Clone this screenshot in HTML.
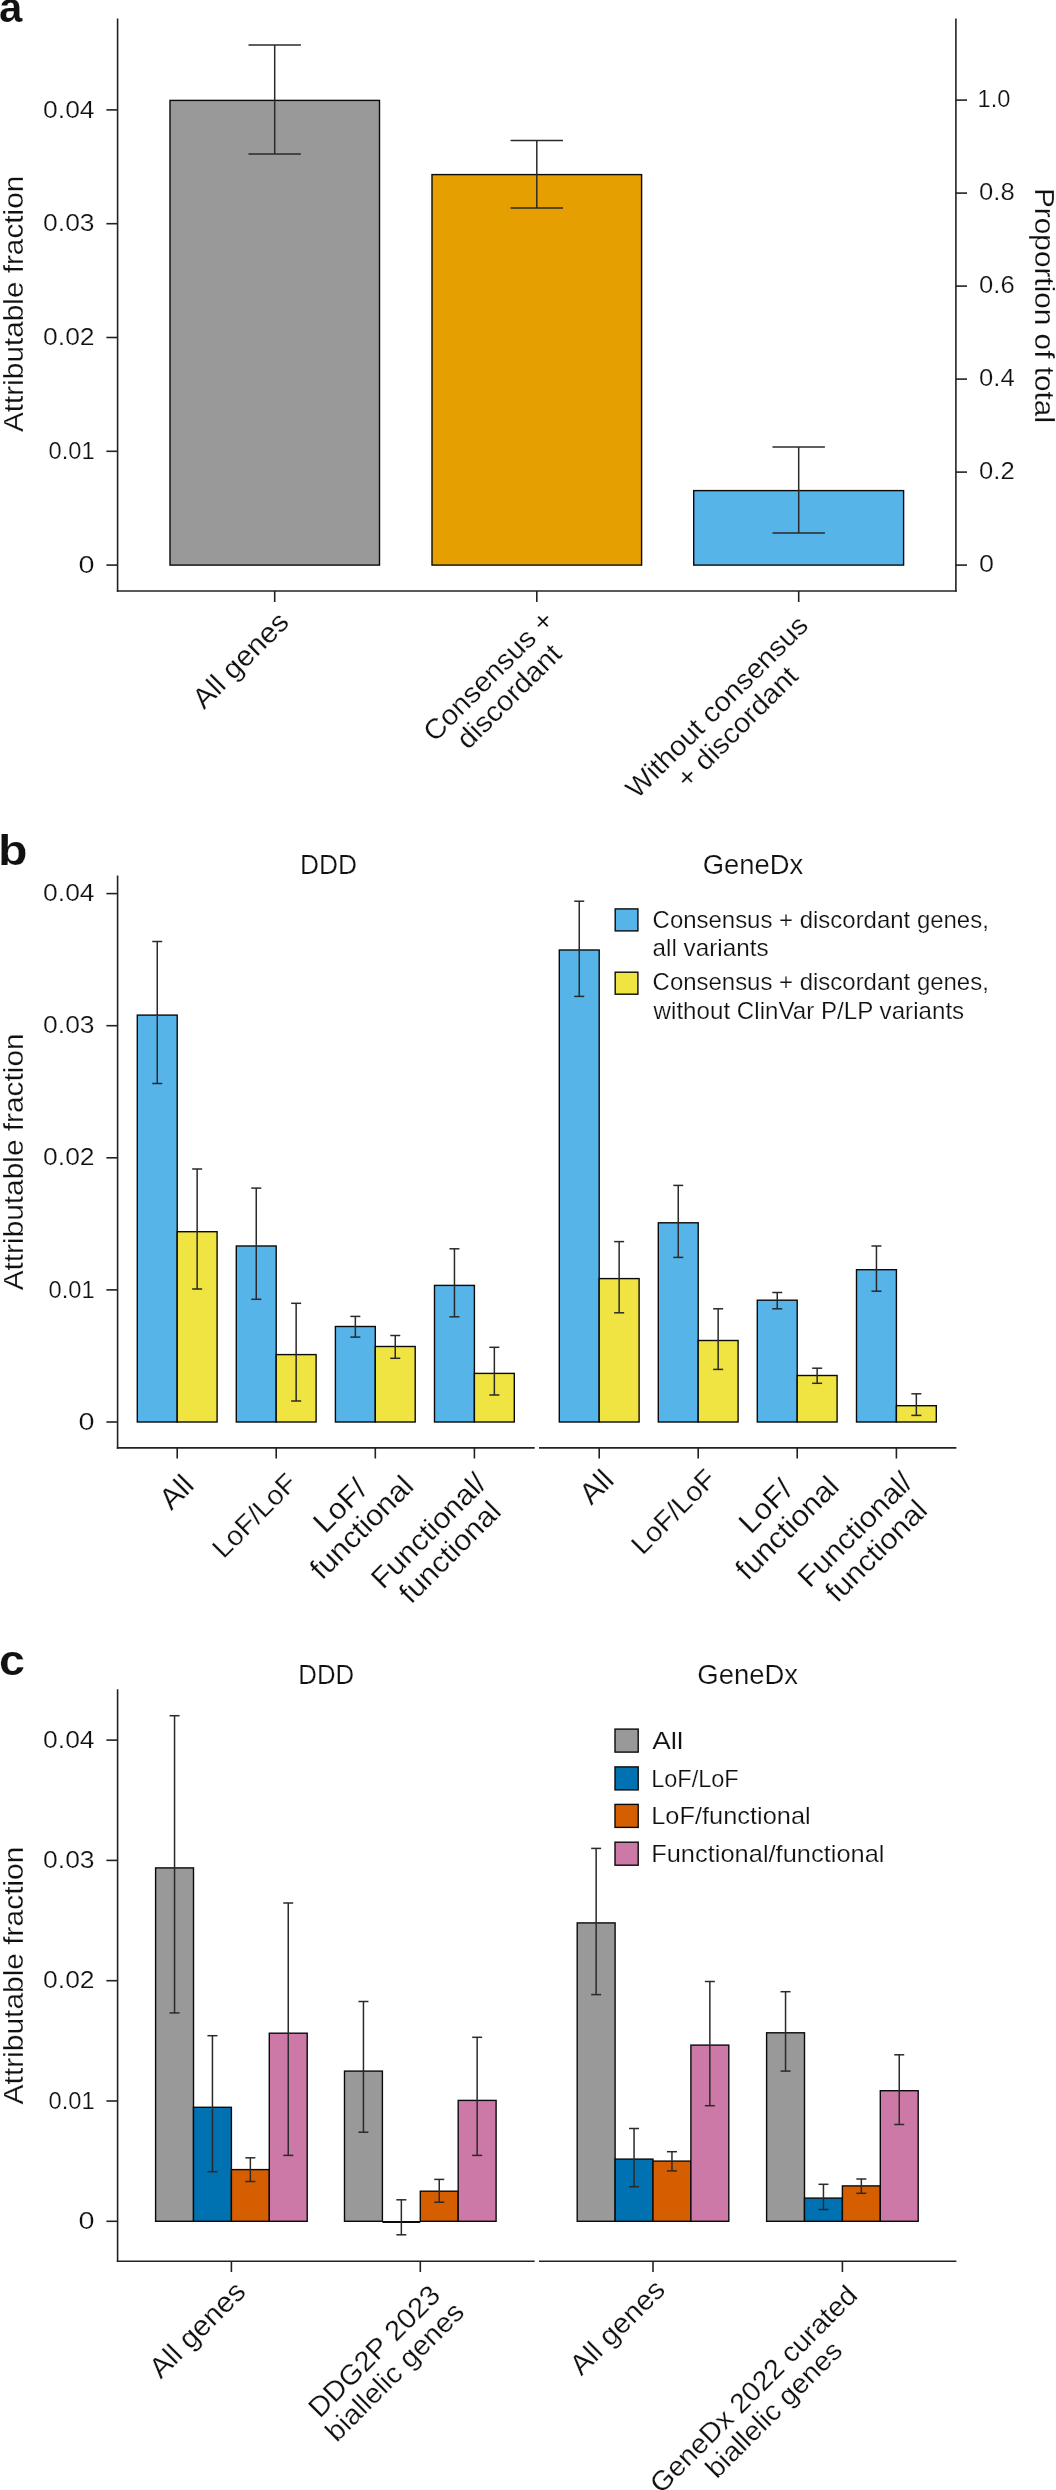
<!DOCTYPE html>
<html><head><meta charset="utf-8"><title>Attributable fraction figure</title>
<style>
html,body{margin:0;padding:0;background:#fff;}
body{width:1056px;height:2490px;overflow:hidden;}
svg{display:block;will-change:transform;}
text{font-family:"Liberation Sans", sans-serif;fill:#111;stroke:#fff;stroke-width:0.2px;}
</style></head><body>
<svg width="1056" height="2490" viewBox="0 0 1056 2490">
<rect width="1056" height="2490" fill="#fff"/>
<text x="-1" y="21.5" font-size="42" font-weight="bold">a</text>
<text x="-2.1" y="865" font-size="42" font-weight="bold" textLength="29.5" lengthAdjust="spacingAndGlyphs">b</text>
<text x="-1" y="1674.7" font-size="42" font-weight="bold" textLength="26.0" lengthAdjust="spacingAndGlyphs">c</text>
<line x1="117.60" y1="18.50" x2="117.60" y2="591.80" stroke="#222" stroke-width="1.6"/>
<line x1="116.80" y1="591.00" x2="956.70" y2="591.00" stroke="#222" stroke-width="1.6"/>
<line x1="955.90" y1="18.50" x2="955.90" y2="591.80" stroke="#222" stroke-width="1.6"/>
<line x1="106.40" y1="109.90" x2="117.60" y2="109.90" stroke="#222" stroke-width="1.6"/>
<text x="94.60" y="117.50" font-size="23.5" text-anchor="end" textLength="51.5" lengthAdjust="spacingAndGlyphs">0.04</text>
<line x1="106.40" y1="223.70" x2="117.60" y2="223.70" stroke="#222" stroke-width="1.6"/>
<text x="94.60" y="231.30" font-size="23.5" text-anchor="end" textLength="51.5" lengthAdjust="spacingAndGlyphs">0.03</text>
<line x1="106.40" y1="337.50" x2="117.60" y2="337.50" stroke="#222" stroke-width="1.6"/>
<text x="94.60" y="345.10" font-size="23.5" text-anchor="end" textLength="51.5" lengthAdjust="spacingAndGlyphs">0.02</text>
<line x1="106.40" y1="451.30" x2="117.60" y2="451.30" stroke="#222" stroke-width="1.6"/>
<text x="94.60" y="458.90" font-size="23.5" text-anchor="end" textLength="46.0" lengthAdjust="spacingAndGlyphs">0.01</text>
<line x1="106.40" y1="565.10" x2="117.60" y2="565.10" stroke="#222" stroke-width="1.6"/>
<text x="94.60" y="572.70" font-size="23.5" text-anchor="end" textLength="16.0" lengthAdjust="spacingAndGlyphs">0</text>
<line x1="955.90" y1="565.10" x2="967.00" y2="565.10" stroke="#222" stroke-width="1.6"/>
<text x="979.10" y="572.10" font-size="23.5" text-anchor="start" textLength="15.0" lengthAdjust="spacingAndGlyphs">0</text>
<line x1="955.90" y1="472.10" x2="967.00" y2="472.10" stroke="#222" stroke-width="1.6"/>
<text x="979.10" y="479.10" font-size="23.5" text-anchor="start" textLength="35.6" lengthAdjust="spacingAndGlyphs">0.2</text>
<line x1="955.90" y1="379.10" x2="967.00" y2="379.10" stroke="#222" stroke-width="1.6"/>
<text x="979.10" y="386.10" font-size="23.5" text-anchor="start" textLength="35.6" lengthAdjust="spacingAndGlyphs">0.4</text>
<line x1="955.90" y1="286.10" x2="967.00" y2="286.10" stroke="#222" stroke-width="1.6"/>
<text x="979.10" y="293.10" font-size="23.5" text-anchor="start" textLength="35.6" lengthAdjust="spacingAndGlyphs">0.6</text>
<line x1="955.90" y1="193.10" x2="967.00" y2="193.10" stroke="#222" stroke-width="1.6"/>
<text x="979.10" y="200.10" font-size="23.5" text-anchor="start" textLength="35.6" lengthAdjust="spacingAndGlyphs">0.8</text>
<line x1="955.90" y1="100.10" x2="967.00" y2="100.10" stroke="#222" stroke-width="1.6"/>
<text x="977.60" y="107.10" font-size="23.5" text-anchor="start" textLength="32.8" lengthAdjust="spacingAndGlyphs">1.0</text>
<rect x="170.00" y="100.40" width="209.50" height="464.70" fill="#999999" stroke="#0a0a0a" stroke-width="1.4"/>
<rect x="432.00" y="174.60" width="209.60" height="390.50" fill="#E69F00" stroke="#0a0a0a" stroke-width="1.4"/>
<rect x="693.70" y="490.60" width="209.90" height="74.50" fill="#56B4E9" stroke="#0a0a0a" stroke-width="1.4"/>
<line x1="274.70" y1="45.00" x2="274.70" y2="154.10" stroke="#2a2a2a" stroke-width="1.5"/>
<line x1="248.50" y1="45.00" x2="300.90" y2="45.00" stroke="#2a2a2a" stroke-width="1.5"/>
<line x1="248.50" y1="154.10" x2="300.90" y2="154.10" stroke="#2a2a2a" stroke-width="1.5"/>
<line x1="536.80" y1="140.50" x2="536.80" y2="208.00" stroke="#2a2a2a" stroke-width="1.5"/>
<line x1="510.60" y1="140.50" x2="563.00" y2="140.50" stroke="#2a2a2a" stroke-width="1.5"/>
<line x1="510.60" y1="208.00" x2="563.00" y2="208.00" stroke="#2a2a2a" stroke-width="1.5"/>
<line x1="798.70" y1="447.00" x2="798.70" y2="533.00" stroke="#2a2a2a" stroke-width="1.5"/>
<line x1="772.50" y1="447.00" x2="824.90" y2="447.00" stroke="#2a2a2a" stroke-width="1.5"/>
<line x1="772.50" y1="533.00" x2="824.90" y2="533.00" stroke="#2a2a2a" stroke-width="1.5"/>
<line x1="274.70" y1="591.00" x2="274.70" y2="602.00" stroke="#222" stroke-width="1.6"/>
<line x1="536.80" y1="591.00" x2="536.80" y2="602.00" stroke="#222" stroke-width="1.6"/>
<line x1="798.70" y1="591.00" x2="798.70" y2="602.00" stroke="#222" stroke-width="1.6"/>
<text transform="translate(23.10,303.90) rotate(-90)" x="0" y="0" font-size="27.5" text-anchor="middle" textLength="256.2" lengthAdjust="spacingAndGlyphs">Attributable fraction</text>
<text transform="translate(1034.80,305.50) rotate(90)" x="0" y="0" font-size="27.5" text-anchor="middle" textLength="235.0" lengthAdjust="spacingAndGlyphs">Proportion of total</text>
<g id="xl0" transform="translate(290.60,623.70) rotate(-45)"><text x="-61.16" y="0.00" font-size="28.59" text-anchor="middle" textLength="122.3" lengthAdjust="spacingAndGlyphs">All genes</text></g>
<g id="xl1" transform="translate(555.50,622.10) rotate(-45)"><text x="-85.44" y="0.00" font-size="28.02" text-anchor="middle" textLength="170.9" lengthAdjust="spacingAndGlyphs">Consensus +</text><text x="-85.44" y="29.03" font-size="28.02" text-anchor="middle" textLength="134.4" lengthAdjust="spacingAndGlyphs">discordant</text></g>
<g id="xl2" transform="translate(809.80,626.90) rotate(-45)"><text x="-122.26" y="0.00" font-size="27.83" text-anchor="middle" textLength="244.5" lengthAdjust="spacingAndGlyphs">Without consensus</text><text x="-122.26" y="28.84" font-size="27.83" text-anchor="middle" textLength="158.5" lengthAdjust="spacingAndGlyphs">+ discordant</text></g>
<line x1="117.60" y1="875.50" x2="117.60" y2="1448.70" stroke="#222" stroke-width="1.6"/>
<line x1="116.80" y1="1447.90" x2="534.70" y2="1447.90" stroke="#222" stroke-width="1.6"/>
<line x1="539.00" y1="1447.90" x2="956.40" y2="1447.90" stroke="#222" stroke-width="1.6"/>
<line x1="106.40" y1="893.60" x2="117.60" y2="893.60" stroke="#222" stroke-width="1.6"/>
<text x="94.60" y="901.20" font-size="23.5" text-anchor="end" textLength="51.5" lengthAdjust="spacingAndGlyphs">0.04</text>
<line x1="106.40" y1="1025.70" x2="117.60" y2="1025.70" stroke="#222" stroke-width="1.6"/>
<text x="94.60" y="1033.30" font-size="23.5" text-anchor="end" textLength="51.5" lengthAdjust="spacingAndGlyphs">0.03</text>
<line x1="106.40" y1="1157.80" x2="117.60" y2="1157.80" stroke="#222" stroke-width="1.6"/>
<text x="94.60" y="1165.40" font-size="23.5" text-anchor="end" textLength="51.5" lengthAdjust="spacingAndGlyphs">0.02</text>
<line x1="106.40" y1="1289.90" x2="117.60" y2="1289.90" stroke="#222" stroke-width="1.6"/>
<text x="94.60" y="1297.50" font-size="23.5" text-anchor="end" textLength="46.0" lengthAdjust="spacingAndGlyphs">0.01</text>
<line x1="106.40" y1="1422.00" x2="117.60" y2="1422.00" stroke="#222" stroke-width="1.6"/>
<text x="94.60" y="1429.60" font-size="23.5" text-anchor="end" textLength="16.0" lengthAdjust="spacingAndGlyphs">0</text>
<text x="328.60" y="873.80" font-size="27" text-anchor="middle" textLength="57.0" lengthAdjust="spacingAndGlyphs">DDD</text>
<text x="753.00" y="874.00" font-size="27" text-anchor="middle" textLength="100.5" lengthAdjust="spacingAndGlyphs">GeneDx</text>
<rect x="137.30" y="1015.10" width="39.90" height="406.90" fill="#56B4E9" stroke="#0a0a0a" stroke-width="1.4"/>
<rect x="177.20" y="1231.70" width="39.90" height="190.30" fill="#F0E442" stroke="#0a0a0a" stroke-width="1.4"/>
<rect x="236.30" y="1246.00" width="39.90" height="176.00" fill="#56B4E9" stroke="#0a0a0a" stroke-width="1.4"/>
<rect x="276.20" y="1354.60" width="39.90" height="67.40" fill="#F0E442" stroke="#0a0a0a" stroke-width="1.4"/>
<rect x="335.40" y="1326.50" width="39.90" height="95.50" fill="#56B4E9" stroke="#0a0a0a" stroke-width="1.4"/>
<rect x="375.30" y="1346.50" width="39.90" height="75.50" fill="#F0E442" stroke="#0a0a0a" stroke-width="1.4"/>
<rect x="434.50" y="1285.40" width="39.90" height="136.60" fill="#56B4E9" stroke="#0a0a0a" stroke-width="1.4"/>
<rect x="474.40" y="1373.40" width="39.90" height="48.60" fill="#F0E442" stroke="#0a0a0a" stroke-width="1.4"/>
<line x1="157.25" y1="941.50" x2="157.25" y2="1083.50" stroke="#2a2a2a" stroke-width="1.5"/>
<line x1="152.25" y1="941.50" x2="162.25" y2="941.50" stroke="#2a2a2a" stroke-width="1.5"/>
<line x1="152.25" y1="1083.50" x2="162.25" y2="1083.50" stroke="#2a2a2a" stroke-width="1.5"/>
<line x1="197.15" y1="1169.00" x2="197.15" y2="1289.00" stroke="#2a2a2a" stroke-width="1.5"/>
<line x1="192.15" y1="1169.00" x2="202.15" y2="1169.00" stroke="#2a2a2a" stroke-width="1.5"/>
<line x1="192.15" y1="1289.00" x2="202.15" y2="1289.00" stroke="#2a2a2a" stroke-width="1.5"/>
<line x1="256.25" y1="1188.10" x2="256.25" y2="1299.30" stroke="#2a2a2a" stroke-width="1.5"/>
<line x1="251.25" y1="1188.10" x2="261.25" y2="1188.10" stroke="#2a2a2a" stroke-width="1.5"/>
<line x1="251.25" y1="1299.30" x2="261.25" y2="1299.30" stroke="#2a2a2a" stroke-width="1.5"/>
<line x1="296.15" y1="1303.30" x2="296.15" y2="1401.00" stroke="#2a2a2a" stroke-width="1.5"/>
<line x1="291.15" y1="1303.30" x2="301.15" y2="1303.30" stroke="#2a2a2a" stroke-width="1.5"/>
<line x1="291.15" y1="1401.00" x2="301.15" y2="1401.00" stroke="#2a2a2a" stroke-width="1.5"/>
<line x1="355.35" y1="1316.40" x2="355.35" y2="1337.10" stroke="#2a2a2a" stroke-width="1.5"/>
<line x1="350.35" y1="1316.40" x2="360.35" y2="1316.40" stroke="#2a2a2a" stroke-width="1.5"/>
<line x1="350.35" y1="1337.10" x2="360.35" y2="1337.10" stroke="#2a2a2a" stroke-width="1.5"/>
<line x1="395.25" y1="1335.50" x2="395.25" y2="1358.30" stroke="#2a2a2a" stroke-width="1.5"/>
<line x1="390.25" y1="1335.50" x2="400.25" y2="1335.50" stroke="#2a2a2a" stroke-width="1.5"/>
<line x1="390.25" y1="1358.30" x2="400.25" y2="1358.30" stroke="#2a2a2a" stroke-width="1.5"/>
<line x1="454.45" y1="1248.80" x2="454.45" y2="1316.80" stroke="#2a2a2a" stroke-width="1.5"/>
<line x1="449.45" y1="1248.80" x2="459.45" y2="1248.80" stroke="#2a2a2a" stroke-width="1.5"/>
<line x1="449.45" y1="1316.80" x2="459.45" y2="1316.80" stroke="#2a2a2a" stroke-width="1.5"/>
<line x1="494.35" y1="1347.30" x2="494.35" y2="1395.00" stroke="#2a2a2a" stroke-width="1.5"/>
<line x1="489.35" y1="1347.30" x2="499.35" y2="1347.30" stroke="#2a2a2a" stroke-width="1.5"/>
<line x1="489.35" y1="1395.00" x2="499.35" y2="1395.00" stroke="#2a2a2a" stroke-width="1.5"/>
<line x1="177.20" y1="1447.90" x2="177.20" y2="1458.50" stroke="#222" stroke-width="1.6"/>
<line x1="276.20" y1="1447.90" x2="276.20" y2="1458.50" stroke="#222" stroke-width="1.6"/>
<line x1="375.30" y1="1447.90" x2="375.30" y2="1458.50" stroke="#222" stroke-width="1.6"/>
<line x1="474.40" y1="1447.90" x2="474.40" y2="1458.50" stroke="#222" stroke-width="1.6"/>
<rect x="559.30" y="950.00" width="39.90" height="472.00" fill="#56B4E9" stroke="#0a0a0a" stroke-width="1.4"/>
<rect x="599.20" y="1278.60" width="39.90" height="143.40" fill="#F0E442" stroke="#0a0a0a" stroke-width="1.4"/>
<rect x="658.30" y="1222.80" width="39.90" height="199.20" fill="#56B4E9" stroke="#0a0a0a" stroke-width="1.4"/>
<rect x="698.20" y="1340.50" width="39.90" height="81.50" fill="#F0E442" stroke="#0a0a0a" stroke-width="1.4"/>
<rect x="757.30" y="1300.20" width="39.90" height="121.80" fill="#56B4E9" stroke="#0a0a0a" stroke-width="1.4"/>
<rect x="797.20" y="1375.50" width="39.90" height="46.50" fill="#F0E442" stroke="#0a0a0a" stroke-width="1.4"/>
<rect x="856.50" y="1269.70" width="39.90" height="152.30" fill="#56B4E9" stroke="#0a0a0a" stroke-width="1.4"/>
<rect x="896.40" y="1405.70" width="39.90" height="16.30" fill="#F0E442" stroke="#0a0a0a" stroke-width="1.4"/>
<line x1="579.25" y1="901.20" x2="579.25" y2="996.40" stroke="#2a2a2a" stroke-width="1.5"/>
<line x1="574.25" y1="901.20" x2="584.25" y2="901.20" stroke="#2a2a2a" stroke-width="1.5"/>
<line x1="574.25" y1="996.40" x2="584.25" y2="996.40" stroke="#2a2a2a" stroke-width="1.5"/>
<line x1="619.15" y1="1241.60" x2="619.15" y2="1312.80" stroke="#2a2a2a" stroke-width="1.5"/>
<line x1="614.15" y1="1241.60" x2="624.15" y2="1241.60" stroke="#2a2a2a" stroke-width="1.5"/>
<line x1="614.15" y1="1312.80" x2="624.15" y2="1312.80" stroke="#2a2a2a" stroke-width="1.5"/>
<line x1="678.25" y1="1185.40" x2="678.25" y2="1257.40" stroke="#2a2a2a" stroke-width="1.5"/>
<line x1="673.25" y1="1185.40" x2="683.25" y2="1185.40" stroke="#2a2a2a" stroke-width="1.5"/>
<line x1="673.25" y1="1257.40" x2="683.25" y2="1257.40" stroke="#2a2a2a" stroke-width="1.5"/>
<line x1="718.15" y1="1308.80" x2="718.15" y2="1369.40" stroke="#2a2a2a" stroke-width="1.5"/>
<line x1="713.15" y1="1308.80" x2="723.15" y2="1308.80" stroke="#2a2a2a" stroke-width="1.5"/>
<line x1="713.15" y1="1369.40" x2="723.15" y2="1369.40" stroke="#2a2a2a" stroke-width="1.5"/>
<line x1="777.25" y1="1292.50" x2="777.25" y2="1308.80" stroke="#2a2a2a" stroke-width="1.5"/>
<line x1="772.25" y1="1292.50" x2="782.25" y2="1292.50" stroke="#2a2a2a" stroke-width="1.5"/>
<line x1="772.25" y1="1308.80" x2="782.25" y2="1308.80" stroke="#2a2a2a" stroke-width="1.5"/>
<line x1="817.15" y1="1368.20" x2="817.15" y2="1383.30" stroke="#2a2a2a" stroke-width="1.5"/>
<line x1="812.15" y1="1368.20" x2="822.15" y2="1368.20" stroke="#2a2a2a" stroke-width="1.5"/>
<line x1="812.15" y1="1383.30" x2="822.15" y2="1383.30" stroke="#2a2a2a" stroke-width="1.5"/>
<line x1="876.45" y1="1246.00" x2="876.45" y2="1291.20" stroke="#2a2a2a" stroke-width="1.5"/>
<line x1="871.45" y1="1246.00" x2="881.45" y2="1246.00" stroke="#2a2a2a" stroke-width="1.5"/>
<line x1="871.45" y1="1291.20" x2="881.45" y2="1291.20" stroke="#2a2a2a" stroke-width="1.5"/>
<line x1="916.35" y1="1393.80" x2="916.35" y2="1415.40" stroke="#2a2a2a" stroke-width="1.5"/>
<line x1="911.35" y1="1393.80" x2="921.35" y2="1393.80" stroke="#2a2a2a" stroke-width="1.5"/>
<line x1="911.35" y1="1415.40" x2="921.35" y2="1415.40" stroke="#2a2a2a" stroke-width="1.5"/>
<line x1="599.20" y1="1447.90" x2="599.20" y2="1458.50" stroke="#222" stroke-width="1.6"/>
<line x1="698.20" y1="1447.90" x2="698.20" y2="1458.50" stroke="#222" stroke-width="1.6"/>
<line x1="797.20" y1="1447.90" x2="797.20" y2="1458.50" stroke="#222" stroke-width="1.6"/>
<line x1="896.40" y1="1447.90" x2="896.40" y2="1458.50" stroke="#222" stroke-width="1.6"/>
<rect x="615.2" y="908.9" width="22.7" height="22.0" fill="#56B4E9" stroke="#0a0a0a" stroke-width="1.4"/>
<rect x="615.2" y="972.2" width="22.7" height="22.0" fill="#F0E442" stroke="#0a0a0a" stroke-width="1.4"/>
<text x="652.60" y="927.90" font-size="23.8" text-anchor="start" textLength="336.2" lengthAdjust="spacingAndGlyphs">Consensus + discordant genes,</text>
<text x="652.60" y="956.30" font-size="23.8" text-anchor="start" textLength="116" lengthAdjust="spacingAndGlyphs">all variants</text>
<text x="652.60" y="990.40" font-size="23.8" text-anchor="start" textLength="336.2" lengthAdjust="spacingAndGlyphs">Consensus + discordant genes,</text>
<text x="653.60" y="1018.80" font-size="23.8" text-anchor="start" textLength="310.6" lengthAdjust="spacingAndGlyphs">without ClinVar P/LP variants</text>
<text transform="translate(23.10,1161.90) rotate(-90)" x="0" y="0" font-size="27.5" text-anchor="middle" textLength="256.9" lengthAdjust="spacingAndGlyphs">Attributable fraction</text>
<g id="xl3" transform="translate(195.60,1487.00) rotate(-45)"><text x="-17.16" y="0.00" font-size="29.70" text-anchor="middle" textLength="34.3" lengthAdjust="spacingAndGlyphs">All</text></g>
<g id="xl4" transform="translate(298.50,1484.60) rotate(-45)"><text x="-53.03" y="0.00" font-size="27.38" text-anchor="middle" textLength="106.1" lengthAdjust="spacingAndGlyphs">LoF/LoF</text></g>
<g id="xl5" transform="translate(393.60,1466.20) rotate(-45)"><text x="-65.89" y="0.00" font-size="29.60" text-anchor="middle" textLength="61.6" lengthAdjust="spacingAndGlyphs">LoF/</text><text x="-65.89" y="30.68" font-size="29.60" text-anchor="middle" textLength="131.8" lengthAdjust="spacingAndGlyphs">functional</text></g>
<g id="xl6" transform="translate(487.90,1485.40) rotate(-45)"><text x="-74.13" y="0.00" font-size="29.15" text-anchor="middle" textLength="148.3" lengthAdjust="spacingAndGlyphs">Functional/</text><text x="-74.13" y="30.20" font-size="29.15" text-anchor="middle" textLength="129.8" lengthAdjust="spacingAndGlyphs">functional</text></g>
<g id="xl7" transform="translate(615.50,1481.80) rotate(-45)"><text x="-17.16" y="0.00" font-size="29.70" text-anchor="middle" textLength="34.3" lengthAdjust="spacingAndGlyphs">All</text></g>
<g id="xl8" transform="translate(717.70,1480.60) rotate(-45)"><text x="-53.26" y="0.00" font-size="27.50" text-anchor="middle" textLength="106.5" lengthAdjust="spacingAndGlyphs">LoF/LoF</text></g>
<g id="xl9" transform="translate(819.10,1466.60) rotate(-45)"><text x="-65.91" y="0.00" font-size="29.61" text-anchor="middle" textLength="61.6" lengthAdjust="spacingAndGlyphs">LoF/</text><text x="-65.91" y="30.69" font-size="29.61" text-anchor="middle" textLength="131.8" lengthAdjust="spacingAndGlyphs">functional</text></g>
<g id="xl10" transform="translate(914.30,1484.20) rotate(-45)"><text x="-74.13" y="0.00" font-size="29.14" text-anchor="middle" textLength="148.3" lengthAdjust="spacingAndGlyphs">Functional/</text><text x="-74.13" y="30.20" font-size="29.14" text-anchor="middle" textLength="129.8" lengthAdjust="spacingAndGlyphs">functional</text></g>
<line x1="117.60" y1="1689.20" x2="117.60" y2="2262.00" stroke="#222" stroke-width="1.6"/>
<line x1="116.80" y1="2261.20" x2="534.70" y2="2261.20" stroke="#222" stroke-width="1.6"/>
<line x1="539.00" y1="2261.20" x2="956.40" y2="2261.20" stroke="#222" stroke-width="1.6"/>
<line x1="106.40" y1="1740.10" x2="117.60" y2="1740.10" stroke="#222" stroke-width="1.6"/>
<text x="94.60" y="1747.70" font-size="23.5" text-anchor="end" textLength="51.5" lengthAdjust="spacingAndGlyphs">0.04</text>
<line x1="106.40" y1="1860.40" x2="117.60" y2="1860.40" stroke="#222" stroke-width="1.6"/>
<text x="94.60" y="1868.00" font-size="23.5" text-anchor="end" textLength="51.5" lengthAdjust="spacingAndGlyphs">0.03</text>
<line x1="106.40" y1="1980.70" x2="117.60" y2="1980.70" stroke="#222" stroke-width="1.6"/>
<text x="94.60" y="1988.30" font-size="23.5" text-anchor="end" textLength="51.5" lengthAdjust="spacingAndGlyphs">0.02</text>
<line x1="106.40" y1="2101.00" x2="117.60" y2="2101.00" stroke="#222" stroke-width="1.6"/>
<text x="94.60" y="2108.60" font-size="23.5" text-anchor="end" textLength="46.0" lengthAdjust="spacingAndGlyphs">0.01</text>
<line x1="106.40" y1="2221.30" x2="117.60" y2="2221.30" stroke="#222" stroke-width="1.6"/>
<text x="94.60" y="2228.90" font-size="23.5" text-anchor="end" textLength="16.0" lengthAdjust="spacingAndGlyphs">0</text>
<text x="326.20" y="1683.80" font-size="27" text-anchor="middle" textLength="55.8" lengthAdjust="spacingAndGlyphs">DDD</text>
<text x="747.70" y="1684.00" font-size="27" text-anchor="middle" textLength="100.8" lengthAdjust="spacingAndGlyphs">GeneDx</text>
<rect x="155.60" y="1867.90" width="37.90" height="353.40" fill="#999999" stroke="#0a0a0a" stroke-width="1.4"/>
<rect x="193.50" y="2107.30" width="37.90" height="114.00" fill="#0072B2" stroke="#0a0a0a" stroke-width="1.4"/>
<rect x="231.40" y="2169.60" width="37.90" height="51.70" fill="#D55E00" stroke="#0a0a0a" stroke-width="1.4"/>
<rect x="269.30" y="2033.20" width="37.90" height="188.10" fill="#CC79A7" stroke="#0a0a0a" stroke-width="1.4"/>
<line x1="174.55" y1="1715.70" x2="174.55" y2="2012.90" stroke="#2a2a2a" stroke-width="1.5"/>
<line x1="169.55" y1="1715.70" x2="179.55" y2="1715.70" stroke="#2a2a2a" stroke-width="1.5"/>
<line x1="169.55" y1="2012.90" x2="179.55" y2="2012.90" stroke="#2a2a2a" stroke-width="1.5"/>
<line x1="212.45" y1="2035.70" x2="212.45" y2="2171.70" stroke="#2a2a2a" stroke-width="1.5"/>
<line x1="207.45" y1="2035.70" x2="217.45" y2="2035.70" stroke="#2a2a2a" stroke-width="1.5"/>
<line x1="207.45" y1="2171.70" x2="217.45" y2="2171.70" stroke="#2a2a2a" stroke-width="1.5"/>
<line x1="250.35" y1="2157.80" x2="250.35" y2="2181.50" stroke="#2a2a2a" stroke-width="1.5"/>
<line x1="245.35" y1="2157.80" x2="255.35" y2="2157.80" stroke="#2a2a2a" stroke-width="1.5"/>
<line x1="245.35" y1="2181.50" x2="255.35" y2="2181.50" stroke="#2a2a2a" stroke-width="1.5"/>
<line x1="288.25" y1="1903.00" x2="288.25" y2="2155.40" stroke="#2a2a2a" stroke-width="1.5"/>
<line x1="283.25" y1="1903.00" x2="293.25" y2="1903.00" stroke="#2a2a2a" stroke-width="1.5"/>
<line x1="283.25" y1="2155.40" x2="293.25" y2="2155.40" stroke="#2a2a2a" stroke-width="1.5"/>
<line x1="231.40" y1="2261.20" x2="231.40" y2="2272.00" stroke="#222" stroke-width="1.6"/>
<rect x="344.50" y="2071.10" width="37.90" height="150.20" fill="#999999" stroke="#0a0a0a" stroke-width="1.4"/>
<line x1="382.40" y1="2221.90" x2="420.30" y2="2221.90" stroke="#0a0a0a" stroke-width="2"/>
<rect x="420.30" y="2191.20" width="37.90" height="30.10" fill="#D55E00" stroke="#0a0a0a" stroke-width="1.4"/>
<rect x="458.20" y="2100.40" width="37.90" height="120.90" fill="#CC79A7" stroke="#0a0a0a" stroke-width="1.4"/>
<line x1="363.45" y1="2001.50" x2="363.45" y2="2132.20" stroke="#2a2a2a" stroke-width="1.5"/>
<line x1="358.45" y1="2001.50" x2="368.45" y2="2001.50" stroke="#2a2a2a" stroke-width="1.5"/>
<line x1="358.45" y1="2132.20" x2="368.45" y2="2132.20" stroke="#2a2a2a" stroke-width="1.5"/>
<line x1="401.35" y1="2199.80" x2="401.35" y2="2234.80" stroke="#2a2a2a" stroke-width="1.5"/>
<line x1="396.35" y1="2199.80" x2="406.35" y2="2199.80" stroke="#2a2a2a" stroke-width="1.5"/>
<line x1="396.35" y1="2234.80" x2="406.35" y2="2234.80" stroke="#2a2a2a" stroke-width="1.5"/>
<line x1="439.25" y1="2179.40" x2="439.25" y2="2202.20" stroke="#2a2a2a" stroke-width="1.5"/>
<line x1="434.25" y1="2179.40" x2="444.25" y2="2179.40" stroke="#2a2a2a" stroke-width="1.5"/>
<line x1="434.25" y1="2202.20" x2="444.25" y2="2202.20" stroke="#2a2a2a" stroke-width="1.5"/>
<line x1="477.15" y1="2037.30" x2="477.15" y2="2155.40" stroke="#2a2a2a" stroke-width="1.5"/>
<line x1="472.15" y1="2037.30" x2="482.15" y2="2037.30" stroke="#2a2a2a" stroke-width="1.5"/>
<line x1="472.15" y1="2155.40" x2="482.15" y2="2155.40" stroke="#2a2a2a" stroke-width="1.5"/>
<line x1="420.30" y1="2261.20" x2="420.30" y2="2272.00" stroke="#222" stroke-width="1.6"/>
<rect x="577.20" y="1922.90" width="37.90" height="298.40" fill="#999999" stroke="#0a0a0a" stroke-width="1.4"/>
<rect x="615.10" y="2159.10" width="37.90" height="62.20" fill="#0072B2" stroke="#0a0a0a" stroke-width="1.4"/>
<rect x="653.00" y="2161.10" width="37.90" height="60.20" fill="#D55E00" stroke="#0a0a0a" stroke-width="1.4"/>
<rect x="690.90" y="2045.10" width="37.90" height="176.20" fill="#CC79A7" stroke="#0a0a0a" stroke-width="1.4"/>
<line x1="596.15" y1="1848.40" x2="596.15" y2="1994.60" stroke="#2a2a2a" stroke-width="1.5"/>
<line x1="591.15" y1="1848.40" x2="601.15" y2="1848.40" stroke="#2a2a2a" stroke-width="1.5"/>
<line x1="591.15" y1="1994.60" x2="601.15" y2="1994.60" stroke="#2a2a2a" stroke-width="1.5"/>
<line x1="634.05" y1="2128.50" x2="634.05" y2="2186.70" stroke="#2a2a2a" stroke-width="1.5"/>
<line x1="629.05" y1="2128.50" x2="639.05" y2="2128.50" stroke="#2a2a2a" stroke-width="1.5"/>
<line x1="629.05" y1="2186.70" x2="639.05" y2="2186.70" stroke="#2a2a2a" stroke-width="1.5"/>
<line x1="671.95" y1="2151.70" x2="671.95" y2="2170.90" stroke="#2a2a2a" stroke-width="1.5"/>
<line x1="666.95" y1="2151.70" x2="676.95" y2="2151.70" stroke="#2a2a2a" stroke-width="1.5"/>
<line x1="666.95" y1="2170.90" x2="676.95" y2="2170.90" stroke="#2a2a2a" stroke-width="1.5"/>
<line x1="709.85" y1="1981.50" x2="709.85" y2="2105.70" stroke="#2a2a2a" stroke-width="1.5"/>
<line x1="704.85" y1="1981.50" x2="714.85" y2="1981.50" stroke="#2a2a2a" stroke-width="1.5"/>
<line x1="704.85" y1="2105.70" x2="714.85" y2="2105.70" stroke="#2a2a2a" stroke-width="1.5"/>
<line x1="653.00" y1="2261.20" x2="653.00" y2="2272.00" stroke="#222" stroke-width="1.6"/>
<rect x="766.60" y="2032.80" width="37.90" height="188.50" fill="#999999" stroke="#0a0a0a" stroke-width="1.4"/>
<rect x="804.50" y="2198.10" width="37.90" height="23.20" fill="#0072B2" stroke="#0a0a0a" stroke-width="1.4"/>
<rect x="842.40" y="2185.90" width="37.90" height="35.40" fill="#D55E00" stroke="#0a0a0a" stroke-width="1.4"/>
<rect x="880.30" y="2090.70" width="37.90" height="130.60" fill="#CC79A7" stroke="#0a0a0a" stroke-width="1.4"/>
<line x1="785.55" y1="1991.70" x2="785.55" y2="2071.10" stroke="#2a2a2a" stroke-width="1.5"/>
<line x1="780.55" y1="1991.70" x2="790.55" y2="1991.70" stroke="#2a2a2a" stroke-width="1.5"/>
<line x1="780.55" y1="2071.10" x2="790.55" y2="2071.10" stroke="#2a2a2a" stroke-width="1.5"/>
<line x1="823.45" y1="2184.30" x2="823.45" y2="2209.50" stroke="#2a2a2a" stroke-width="1.5"/>
<line x1="818.45" y1="2184.30" x2="828.45" y2="2184.30" stroke="#2a2a2a" stroke-width="1.5"/>
<line x1="818.45" y1="2209.50" x2="828.45" y2="2209.50" stroke="#2a2a2a" stroke-width="1.5"/>
<line x1="861.35" y1="2179.00" x2="861.35" y2="2193.30" stroke="#2a2a2a" stroke-width="1.5"/>
<line x1="856.35" y1="2179.00" x2="866.35" y2="2179.00" stroke="#2a2a2a" stroke-width="1.5"/>
<line x1="856.35" y1="2193.30" x2="866.35" y2="2193.30" stroke="#2a2a2a" stroke-width="1.5"/>
<line x1="899.25" y1="2054.80" x2="899.25" y2="2124.50" stroke="#2a2a2a" stroke-width="1.5"/>
<line x1="894.25" y1="2054.80" x2="904.25" y2="2054.80" stroke="#2a2a2a" stroke-width="1.5"/>
<line x1="894.25" y1="2124.50" x2="904.25" y2="2124.50" stroke="#2a2a2a" stroke-width="1.5"/>
<line x1="842.40" y1="2261.20" x2="842.40" y2="2272.00" stroke="#222" stroke-width="1.6"/>
<rect x="615.0" y="1729.10" width="23.2" height="23.0" fill="#999999" stroke="#0a0a0a" stroke-width="1.4"/>
<text x="652.20" y="1749.00" font-size="23.8" text-anchor="start" textLength="31.0" lengthAdjust="spacingAndGlyphs">All</text>
<rect x="615.0" y="1766.90" width="23.2" height="23.0" fill="#0072B2" stroke="#0a0a0a" stroke-width="1.4"/>
<text x="651.20" y="1786.80" font-size="23.8" text-anchor="start" textLength="87.5" lengthAdjust="spacingAndGlyphs">LoF/LoF</text>
<rect x="615.0" y="1804.40" width="23.2" height="23.0" fill="#D55E00" stroke="#0a0a0a" stroke-width="1.4"/>
<text x="651.20" y="1824.30" font-size="23.8" text-anchor="start" textLength="159.5" lengthAdjust="spacingAndGlyphs">LoF/functional</text>
<rect x="615.0" y="1842.20" width="23.2" height="23.0" fill="#CC79A7" stroke="#0a0a0a" stroke-width="1.4"/>
<text x="651.20" y="1862.10" font-size="23.8" text-anchor="start" textLength="233.3" lengthAdjust="spacingAndGlyphs">Functional/functional</text>
<text transform="translate(23.10,1975.50) rotate(-90)" x="0" y="0" font-size="27.5" text-anchor="middle" textLength="257.8" lengthAdjust="spacingAndGlyphs">Attributable fraction</text>
<g id="xl11" transform="translate(247.20,2293.30) rotate(-45)"><text x="-61.16" y="0.00" font-size="28.59" text-anchor="middle" textLength="122.3" lengthAdjust="spacingAndGlyphs">All genes</text></g>
<g id="xl12" transform="translate(445.40,2293.30) rotate(-45)"><text x="-91.28" y="0.00" font-size="27.94" text-anchor="middle" textLength="172.9" lengthAdjust="spacingAndGlyphs">DDG2P 2023</text><text x="-91.28" y="28.96" font-size="27.94" text-anchor="middle" textLength="182.6" lengthAdjust="spacingAndGlyphs">biallelic genes</text></g>
<g id="xl13" transform="translate(666.50,2291.30) rotate(-45)"><text x="-60.23" y="0.00" font-size="28.15" text-anchor="middle" textLength="120.5" lengthAdjust="spacingAndGlyphs">All genes</text></g>
<g id="xl14" transform="translate(859.00,2296.90) rotate(-45)"><text x="-139.92" y="0.00" font-size="27.50" text-anchor="middle" textLength="279.8" lengthAdjust="spacingAndGlyphs">GeneDx 2022 curated</text><text x="-139.92" y="28.50" font-size="27.50" text-anchor="middle" textLength="179.7" lengthAdjust="spacingAndGlyphs">biallelic genes</text></g>
</svg>
</body></html>
